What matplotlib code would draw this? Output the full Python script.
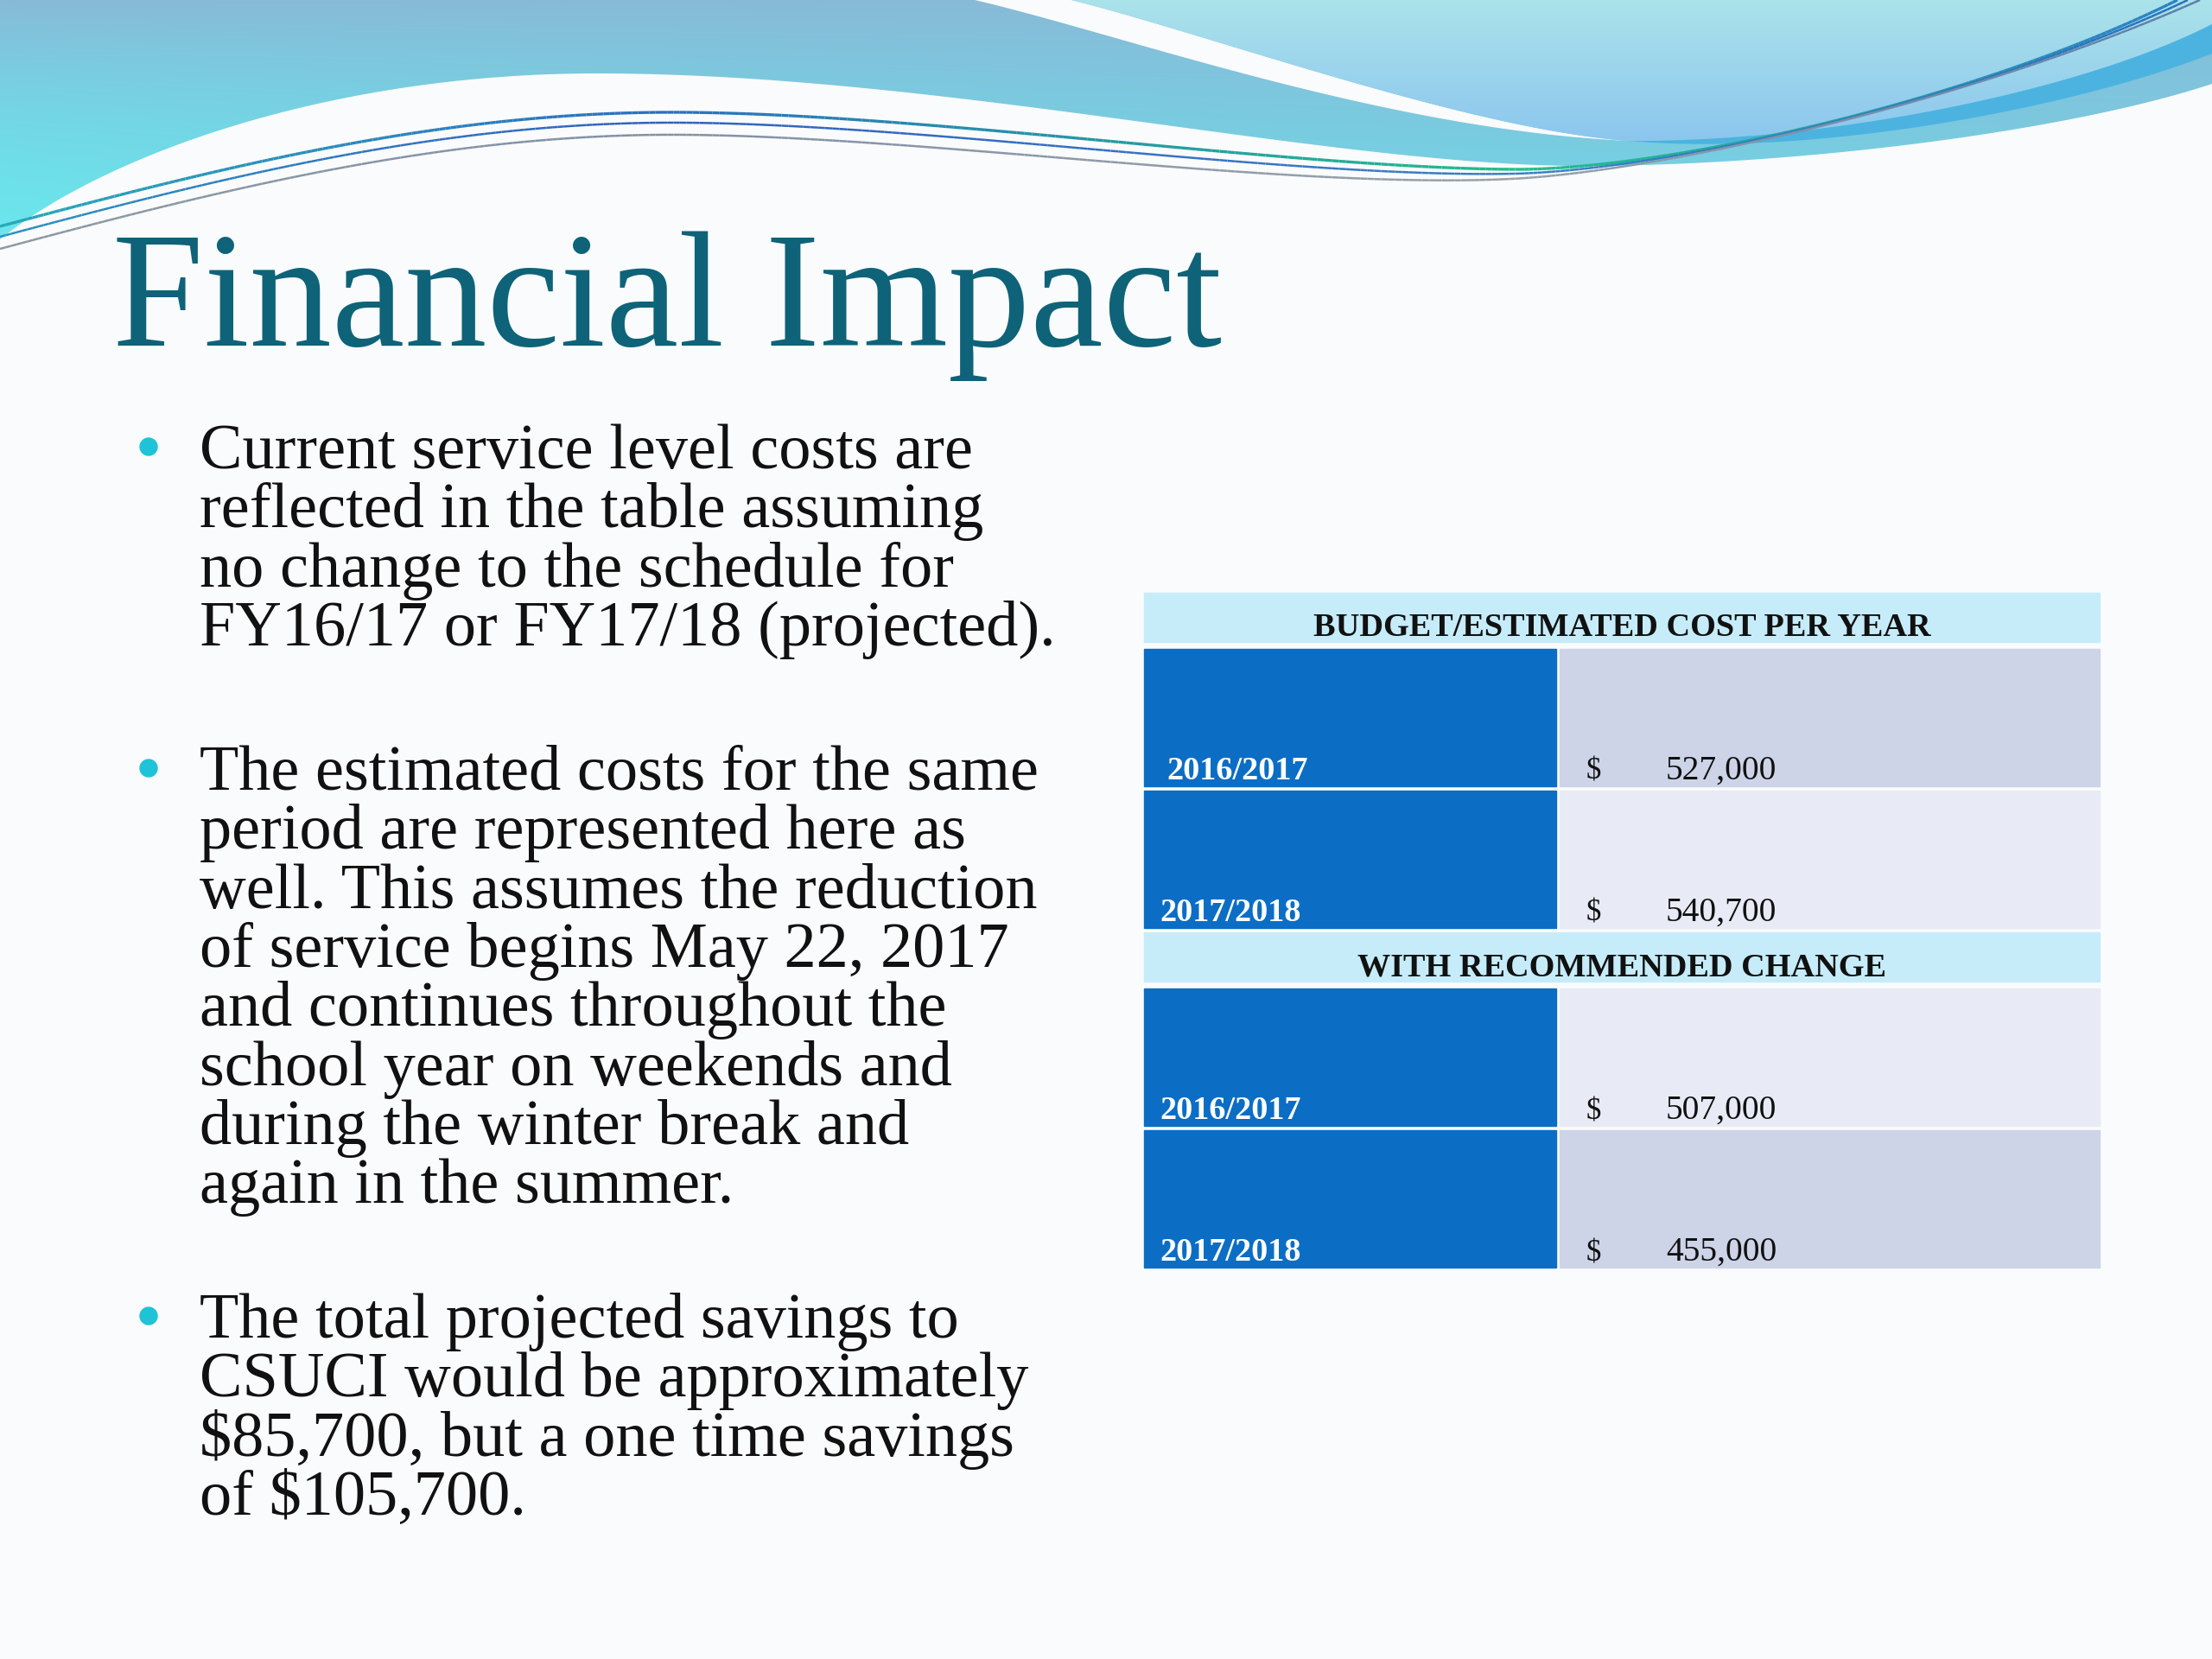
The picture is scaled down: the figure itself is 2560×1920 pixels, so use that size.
import numpy as np
import matplotlib
matplotlib.use("Agg")
import matplotlib.pyplot as plt
from matplotlib.patches import Polygon, Rectangle, Circle
from matplotlib.collections import LineCollection
from matplotlib.colors import to_rgb

# slide content
title = "Financial Impact"
bullets = [
    ["Current service level costs are",
     "reflected in the table assuming",
     "no change to the schedule for",
     "FY16/17 or FY17/18 (projected)."],
    ["The estimated costs for the same",
     "period are represented here as",
     "well. This assumes the reduction",
     "of service begins May 22, 2017",
     "and continues throughout the",
     "school year on weekends and",
     "during the winter break and",
     "again in the summer."],
    ["The total projected savings to",
     "CSUCI would be approximately",
     "$85,700, but a one time savings",
     "of $105,700."],
]

# table data
section_titles = ["BUDGET/ESTIMATED COST PER YEAR", "WITH RECOMMENDED CHANGE"]
budget_years = ["2016/2017", "2017/2018"]
budget_costs = [527000, 540700]
change_years = ["2016/2017", "2017/2018"]
change_costs = [507000, 455000]

W, H = 2560, 1920
BG = "#fafbfc"
fig = plt.figure(figsize=(W / 100, H / 100), dpi=100)
fig.patch.set_facecolor(BG)
ax = fig.add_axes([0, 0, 1, 1])
ax.set_xlim(0, W)
ax.set_ylim(H, 0)
ax.axis("off")

serif = "Liberation Serif"


def bez(p0, p1, p2, p3, n=120):
    t = np.linspace(0, 1, n)[:, None]
    p0, p1, p2, p3 = map(np.array, (p0, p1, p2, p3))
    return ((1 - t) ** 3) * p0 + 3 * ((1 - t) ** 2) * t * p1 + 3 * (1 - t) * t ** 2 * p2 + t ** 3 * p3


def chain(*segs):
    return np.vstack(segs)


def gradient_poly(pts, c_top, c_bot, z, c_left=None):
    poly = Polygon(pts, closed=True, facecolor="none", edgecolor="none", zorder=z)
    ax.add_patch(poly)
    ny, nx = 200, 200
    t = np.linspace(0, 1, ny)[:, None, None]
    img = np.array(to_rgb(c_top)) * (1 - t) + np.array(to_rgb(c_bot)) * t
    img = np.repeat(img, nx, axis=1)
    if c_left is not None:
        s = (np.linspace(1, 0, nx)[None, :, None] ** 2) * t
        img = img * (1 - s) + np.array(to_rgb(c_left)) * s
    x0, y0 = pts.min(axis=0)
    x1, y1 = pts.max(axis=0)
    im = ax.imshow(img, extent=[x0, x1, y1, y0], aspect="auto", zorder=z,
                   interpolation="bilinear")
    im.set_clip_path(poly)


# --- header waves ---
a_edge = chain(bez((0, 277), (120, 180), (380, 85), (690, 85)),
               bez((690, 85), (1100, 85), (1550, 195), (1845, 192)),
               bez((1845, 192), (2100, 190), (2400, 150), (2560, 97)))
a_pts = np.vstack([[(0, 0)], a_edge[::-1] if False else a_edge, [(2560, 0)]])
a_pts = np.vstack([[(2560, 0), (0, 0)], a_edge])
gradient_poly(a_pts, "#88bad7", "#70d6e6", z=1, c_left="#6be6ec")

outer = bez((1128, 0), (1300, 40), (1600, 150), (1885, 163))
inner = bez((1240, 0), (1400, 40), (1700, 150), (1885, 163))
ax.add_patch(Polygon(np.vstack([outer, inner[::-1]]), closed=True,
                     facecolor=BG, edgecolor="none", zorder=2))

streak_top = bez((1885, 163), (2100, 165), (2400, 110), (2560, 28))
streak_bot = bez((1885, 163), (2100, 182), (2400, 125), (2560, 62))
b_pts = np.vstack([inner, streak_top, [(2560, 0)]])
gradient_poly(b_pts, "#abe3ea", "#8cc6ee", z=3)
ax.add_patch(Polygon(np.vstack([streak_top, streak_bot[::-1]]), closed=True,
                     facecolor="#4cb3e0", edgecolor="none", zorder=4))

# thin swooshes with colour shifting along their length
line_specs = [
    (0, ["#27a8b8", "#2b6fc0", "#1fc08a", "#2a80c4"], 2.4),
    (12, ["#2a90c0", "#3060c0", "#3a7fc6", "#2a70c0"], 1.8),
    (26, ["#8a9aa2", "#8090a8", "#9aa2a8", "#5a7fa8"], 1.8),
]
for dy, cols, lw in line_specs:
    pts = chain(bez((0, 262 + dy), (250, 195 + dy), (500, 132 + dy), (765, 130 + dy)),
                bez((765, 130 + dy), (1050, 128 + dy), (1500, 196 + dy), (1760, 196 + dy * 0.4)),
                bez((1760, 196 + dy * 0.4), (1950, 194), (2300, 110), (2520 + dy, 0)))
    segs = np.stack([pts[:-1], pts[1:]], axis=1)
    u = np.linspace(0, 1, len(segs))
    stops = np.linspace(0, 1, len(cols))
    rgb = np.array([to_rgb(c) for c in cols])
    seg_cols = np.column_stack([np.interp(u, stops, rgb[:, j]) for j in range(3)])
    ax.add_collection(LineCollection(segs, colors=seg_cols, linewidths=lw, zorder=5))

# --- title ---
ax.text(130, 400, title, fontsize=137, color="#0e6379", family=serif,
        ha="left", va="baseline", zorder=10)

# --- bullets ---
first_baselines = [542, 914, 1548]
line_gap = 68.3
for group, y0 in zip(bullets, first_baselines):
    ax.add_patch(Circle((172, y0 - 25), 10, color="#1fc3d8", zorder=10))
    for i, line_txt in enumerate(group):
        ax.text(231, y0 + i * line_gap, line_txt, fontsize=53.5, color="#111111",
                family=serif, ha="left", va="baseline", zorder=10)

# --- table ---
x0, x_mid, x1 = 1324, 1803, 2430
gap = 5
head_h, row_h = 57, 159
left_col = "#0c6dc4"
head_col = "#c6ecfa"
shade = ["#cdd4e8", "#e8ebf5", "#e8ebf5", "#cdd4e8"]

sections = [(section_titles[0], budget_years, budget_costs),
            (section_titles[1], change_years, change_costs)]
y = 686
k = 0
for s_title, years, costs in sections:
    ax.add_patch(Rectangle((x0, y), x1 - x0, head_h, color=head_col, zorder=6))
    ax.text((x0 + x1) / 2, y + head_h - 7, s_title, fontsize=27.5, fontweight="bold",
            family=serif, color="#111111", ha="center", va="baseline", zorder=7)
    y += head_h + gap + 3
    for yr, cost in zip(years, costs):
        ax.add_patch(Rectangle((x0, y), x_mid - x0 - 2, row_h, color=left_col, zorder=6))
        ax.add_patch(Rectangle((x_mid + 2, y), x1 - x_mid - 2, row_h, color=shade[k], zorder=6))
        base = y + row_h - 8
        lx = 1350 if k == 0 else 1342
        ax.text(lx, base, yr, fontsize=27.5, fontweight="bold", family=serif,
                color="white", ha="left", va="baseline", zorder=7)
        ax.text(1836, base, "$", fontsize=25, family=serif, color="#111111",
                ha="left", va="baseline", zorder=7)
        ax.text(1928, base, f"{cost:,}", fontsize=28.5, family=serif, color="#111111",
                ha="left", va="baseline", zorder=7)
        y += row_h + gap
        k += 1

fig.savefig("out.png", dpi=100, facecolor=fig.get_facecolor())
